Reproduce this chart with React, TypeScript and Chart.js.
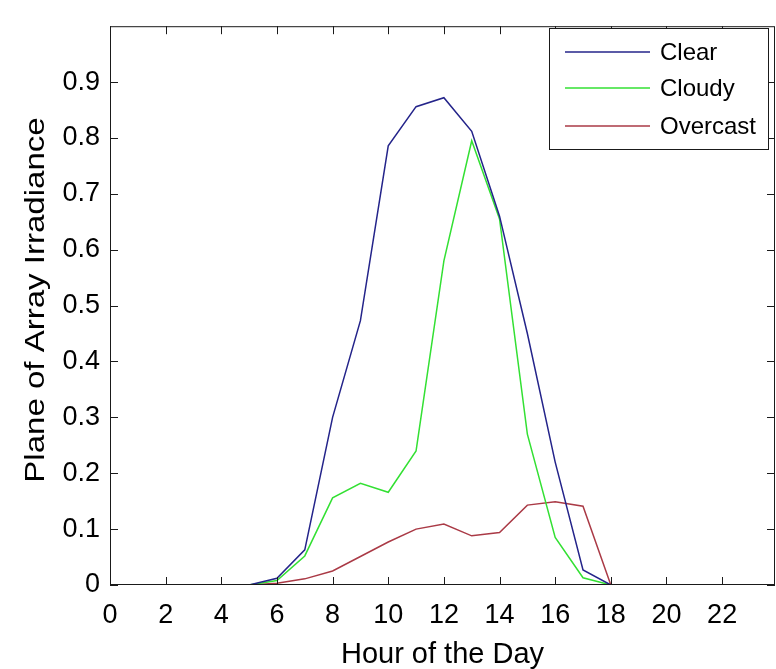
import React, { useEffect, useRef } from "react";
import { Chart, registerables } from "chart.js";

Chart.register(...registerables);

const hours = [5, 6, 7, 8, 9, 10, 11, 12, 13, 14, 15, 16, 17, 18];
const clear = [0, 0.012, 0.063, 0.3, 0.473, 0.786, 0.856, 0.872, 0.812, 0.66, 0.45, 0.22, 0.027, 0];
const cloudy = [0, 0.008, 0.052, 0.156, 0.182, 0.166, 0.24, 0.58, 0.795, 0.655, 0.27, 0.085, 0.013, 0];
const overcast = [0, 0.003, 0.011, 0.025, 0.051, 0.077, 0.1, 0.109, 0.088, 0.094, 0.143, 0.149, 0.141, 0];
const seriesNames = ["Clear", "Cloudy", "Overcast"];
const seriesColors = ["#24248a", "#33e033", "#aa3a46"];
const xTickValues = [0, 2, 4, 6, 8, 10, 12, 14, 16, 18, 20, 22];
const yTickValues = [0, 0.1, 0.2, 0.3, 0.4, 0.5, 0.6, 0.7, 0.8, 0.9];
const xAxisTitle = "Hour of the Day";
const yAxisTitle = "Plane of Array Irradiance";

const FONT = "'Liberation Sans', Arial, Helvetica, sans-serif";

const framePlugin = {
  id: "matlabFrame",
  afterDatasetsDraw(chart: any) {
    const { ctx, chartArea } = chart;
    const { left, right, top, bottom } = chartArea;
    const xs = chart.scales.x;
    const ys = chart.scales.y;
    ctx.save();
    ctx.strokeStyle = "#1a1a1a";
    ctx.lineWidth = 1;
    // frame
    ctx.strokeRect(left + 0.5, top + 0.5, right - left - 1, bottom - top - 1);
    // inward ticks
    const tl = 8;
    ctx.beginPath();
    for (const v of xTickValues) {
      const px = Math.round(xs.getPixelForValue(v)) + 0.5;
      ctx.moveTo(px, bottom);
      ctx.lineTo(px, bottom - tl);
      ctx.moveTo(px, top);
      ctx.lineTo(px, top + tl);
    }
    for (const v of yTickValues) {
      const py = Math.round(ys.getPixelForValue(v)) + 0.5;
      ctx.moveTo(left, py);
      ctx.lineTo(left + tl, py);
      ctx.moveTo(right, py);
      ctx.lineTo(right - tl, py);
    }
    ctx.stroke();

    // axis titles
    ctx.fillStyle = "#000";
    ctx.font = `29px ${FONT}`;
    ctx.textAlign = "center";
    ctx.textBaseline = "alphabetic";
    ctx.fillText(xAxisTitle, (left + right) / 2, 663);
    ctx.save();
    ctx.font = `28px ${FONT}`;
    ctx.translate(44, 300);
    ctx.rotate(-Math.PI / 2);
    ctx.scale(1.18, 1);
    ctx.fillText(yAxisTitle, 0, 0);
    ctx.restore();

    // legend
    const bx = 549, by = 28, bw = 219, bh = 121;
    ctx.fillStyle = "#fff";
    ctx.fillRect(bx, by, bw, bh);
    ctx.strokeStyle = "#1a1a1a";
    ctx.lineWidth = 1;
    ctx.strokeRect(bx + 0.5, by + 0.5, bw, bh);
    const rows = [52, 88, 126];
    ctx.font = `24px ${FONT}`;
    ctx.textAlign = "left";
    ctx.textBaseline = "middle";
    chart.data.datasets.forEach((ds: any, i: number) => {
      const y = rows[i];
      ctx.strokeStyle = ds.borderColor;
      ctx.lineWidth = 1.5;
      ctx.beginPath();
      ctx.moveTo(565, y);
      ctx.lineTo(650, y);
      ctx.stroke();
      ctx.fillStyle = "#000";
      ctx.fillText(ds.label, 660, y + 1);
    });
    ctx.restore();
  },
};

export default function App() {
  const canvasRef = useRef<HTMLCanvasElement | null>(null);

  useEffect(() => {
    const canvas = canvasRef.current;
    if (!canvas) return;
    const series = [clear, cloudy, overcast];
    const chart = new Chart(canvas, {
      type: "line",
      data: {
        datasets: series.map((vals, i) => ({
          label: seriesNames[i],
          data: hours.map((h, j) => ({ x: h, y: vals[j] })),
          borderColor: seriesColors[i],
          backgroundColor: seriesColors[i],
          borderWidth: 1.5,
          pointRadius: 0,
          tension: 0,
          fill: false,
        })),
      },
      options: {
        animation: false,
        responsive: false,
        maintainAspectRatio: false,
        devicePixelRatio: 1,
        layout: { padding: { top: 11, right: 1, left: 0, bottom: 0 } },
        plugins: {
          legend: { display: false },
          tooltip: { enabled: false },
          title: { display: false },
        },
        scales: {
          x: {
            type: "linear",
            min: 0,
            max: 23.9,
            grid: { display: false, drawTicks: false },
            border: { display: false },
            afterBuildTicks: (s: any) => {
              s.ticks = xTickValues.map((v) => ({ value: v }));
            },
            afterFit: (s: any) => {
              s.height = 84;
            },
            ticks: {
              color: "#000",
              font: { family: FONT, size: 27 },
              padding: 14,
              maxRotation: 0,
              autoSkip: false,
              callback: (v: any) => String(v),
            },
          },
          y: {
            type: "linear",
            min: 0,
            max: 1,
            grid: { display: false, drawTicks: false },
            border: { display: false },
            afterBuildTicks: (s: any) => {
              s.ticks = yTickValues.map((v) => ({ value: v }));
            },
            afterFit: (s: any) => {
              s.width = 110;
            },
            ticks: {
              color: "#000",
              font: { family: FONT, size: 27 },
              padding: 10,
              autoSkip: false,
              callback: (v: any) => String(Number(Number(v).toFixed(1))),
            },
          },
        },
      },
      plugins: [framePlugin],
    } as any);
    return () => chart.destroy();
  }, []);

  return (
    <div style={{ position: "absolute", left: 0, top: 0, width: 776, height: 669, background: "#fff" }}>
      <canvas ref={canvasRef} width={776} height={669} style={{ display: "block" }} />
    </div>
  );
}
